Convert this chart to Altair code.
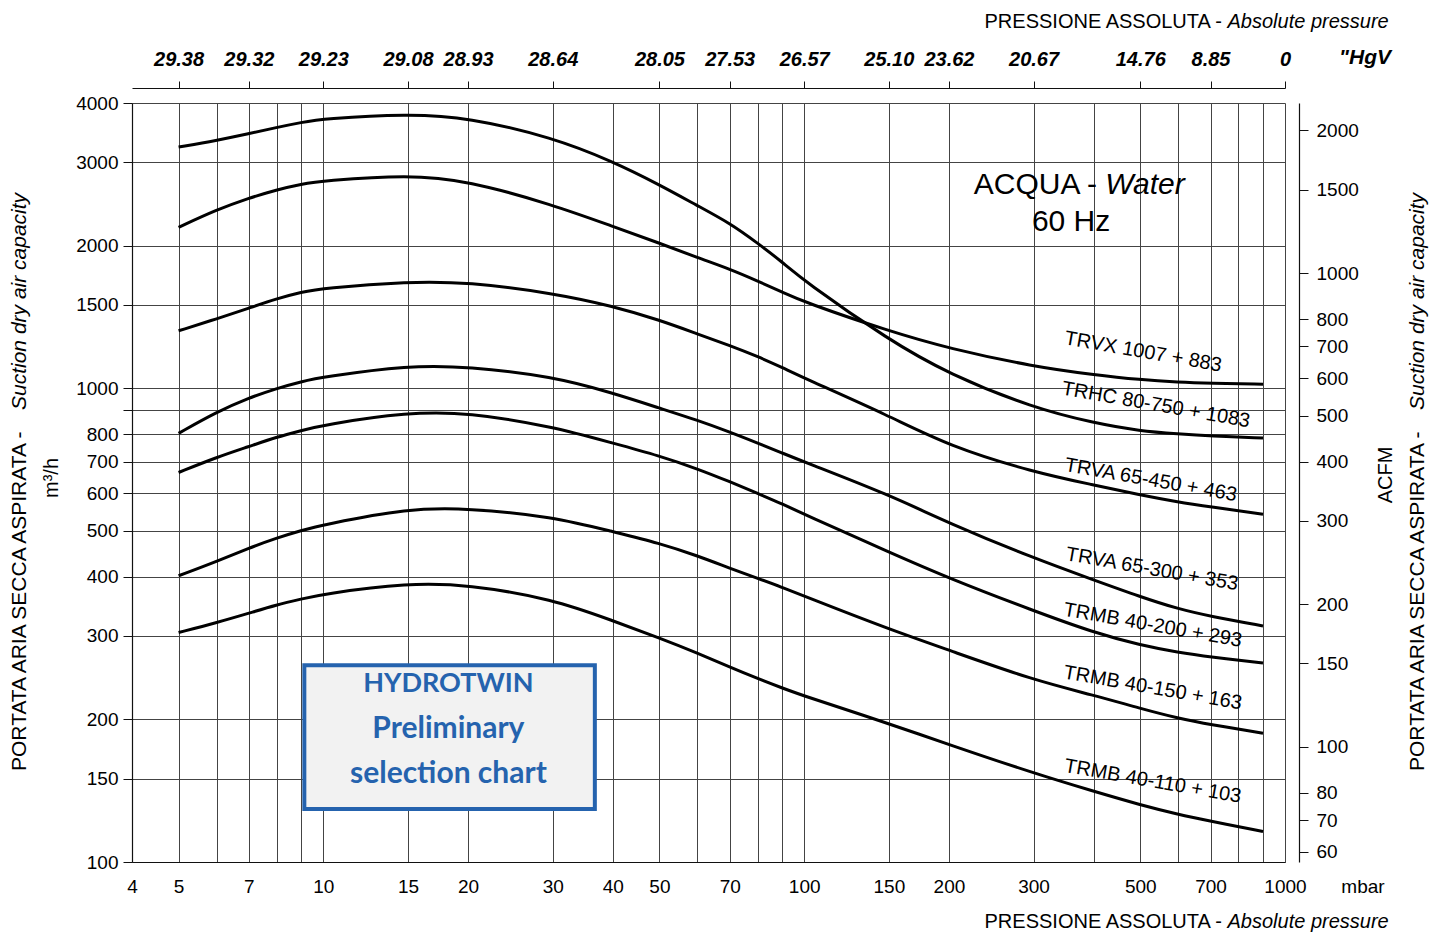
import altair as alt
import pandas as pd

# ---------------- data ----------------
PRESSURE = [5, 6, 7, 8, 9, 10, 15, 20, 30, 40, 50, 60, 70, 80, 90, 100, 150, 200, 300, 400, 500, 600, 700, 900]

TRHC_80_750 = [3229, 3334, 3445, 3552, 3640, 3705, 3796, 3729, 3383, 3010, 2689, 2428, 2232, 2025, 1847, 1684, 1264, 1071, 908, 845, 812, 801, 793, 785]
TRVX_1007 = [2185, 2381, 2520, 2624, 2698, 2741, 2822, 2741, 2440, 2195, 2025, 1886, 1785, 1684, 1596, 1520, 1320, 1213, 1111, 1068, 1042, 1030, 1025, 1020]
TRVA_65_450 = [1322, 1401, 1476, 1545, 1596, 1627, 1680, 1675, 1588, 1491, 1393, 1302, 1231, 1167, 1106, 1050, 875, 755, 665, 625, 595, 575, 562, 542]
TRVA_65_300 = [803, 891, 954, 999, 1033, 1056, 1117, 1111, 1059, 977, 908, 856, 808, 766, 730, 699, 596, 519, 438, 394, 363, 342, 330, 315]
TRMB_40_200 = [664, 715, 753, 789, 814, 837, 890, 889, 830, 766, 720, 676, 635, 600, 570, 542, 451, 397, 339, 305, 287, 277, 271, 263]
TRMB_40_150 = [402, 431, 460, 483, 501, 515, 558, 558, 536, 498, 471, 443, 417, 397, 380, 364, 310, 280, 242, 225, 211, 201, 195, 187]
TRMB_40_110 = [305, 320, 335, 349, 359, 368, 388, 385, 359, 323, 297, 276, 258, 244, 233, 224, 196, 177, 154, 141, 132, 126, 122, 116]

SERIES = {
    "TRHC": TRHC_80_750,
    "TRVX": TRVX_1007,
    "TRVA450": TRVA_65_450,
    "TRVA300": TRVA_65_300,
    "TRMB200": TRMB_40_200,
    "TRMB150": TRMB_40_150,
    "TRMB110": TRMB_40_110,
}

LABEL_TEXT = ["TRVX 1007 + 883", "TRHC 80-750 + 1083", "TRVA 65-450 + 463", "TRVA 65-300 + 353",
              "TRMB 40-200 + 293", "TRMB 40-150 + 163", "TRMB 40-110 + 103"]
LABEL_P = [507, 539, 526, 529, 531, 531, 531]
LABEL_Q = [1193, 922, 640, 415, 316, 233, 148]

X_GRID = [4, 5, 6, 7, 8, 9, 10, 15, 20, 30, 40, 50, 60, 70, 80, 90, 100, 150, 200, 300, 400, 500, 600, 700, 800, 900, 1000]
X_LABELS = [4, 5, 7, 10, 15, 20, 30, 40, 50, 70, 100, 150, 200, 300, 500, 700, 1000]
Y_GRID = [100, 150, 200, 300, 400, 500, 600, 700, 800, 900, 1000, 1500, 2000, 3000, 4000]
Y_LABELS = [100, 150, 200, 300, 400, 500, 600, 700, 800, 1000, 1500, 2000, 3000, 4000]
ACFM_TICKS = [60, 70, 80, 100, 150, 200, 300, 400, 500, 600, 700, 800, 1000, 1500, 2000]
M3H_PER_ACFM = 1.75  # as drawn on the chart's right scale

TOP_P = [5, 7, 10, 15, 20, 30, 50, 70, 100, 150, 200, 300, 500, 700, 1000]
TOP_HGV = ["29.38", "29.32", "29.23", "29.08", "28.93", "28.64", "28.05", "27.53", "26.57",
           "25.10", "23.62", "20.67", "14.76", "8.85", "0"]

BOX_P = [9.13, 36.7]
BOX_Q = [129.4, 260.2]
BOX_LINES = ["HYDROTWIN", "Preliminary", "selection chart"]
BOX_LINE_Q = [228.1, 182.4, 146.6]
BOX_LINE_P = 18.2

ACQUA_TEXT = ["ACQUA -", "Water", "60 Hz"]
ACQUA_P = [406.6, 422.9, 359]
ACQUA_Q = [2569, 2569, 2149]

# ---------------- build ----------------
FONT = "Liberation Sans, Arial, Helvetica, sans-serif"
BLUE = "#2563ae"

rows = []
for name, vals in SERIES.items():
    for p, q in zip(PRESSURE, vals):
        rows.append({"curve": name, "p": p, "q": q})
df = pd.DataFrame(rows)


def lab_expr(vals):
    return "indexof([" + ",".join(str(v) for v in vals) + "], datum.value) >= 0 ? '' + datum.value : ''"


xscale = alt.Scale(type="log", domain=[4, 1000], nice=False)
yscale = alt.Scale(type="log", domain=[100, 4000], nice=False)

xaxis = alt.Axis(values=X_GRID, labelExpr=lab_expr(X_LABELS), grid=True, gridColor="#444", gridWidth=1,
                 tickSize=0, domainColor="#111", domainWidth=1.2, labelFont=FONT, labelFontSize=19,
                 labelColor="black", labelPadding=15, labelFlush=False, labelOverlap=False,
                 labelBound=False, title=None, orient="bottom")
yaxis = alt.Axis(values=Y_GRID, labelExpr=lab_expr(Y_LABELS), grid=True, gridColor="#444", gridWidth=1,
                 tickSize=9, tickColor="#111", domainColor="#111", domainWidth=1.2, labelFont=FONT,
                 labelFontSize=19, labelColor="black", labelPadding=5, labelFlush=False,
                 labelOverlap=False, labelBound=False, title=None, orient="left")


def X(field):
    return alt.X(field, scale=xscale, axis=xaxis)


def Y(field):
    return alt.Y(field, scale=yscale, axis=yaxis)


curves = alt.Chart(df).mark_line(color="black", strokeWidth=3, interpolate="basis").encode(
    x=X("p:Q"), y=Y("q:Q"), detail="curve:N")

lab_df = pd.DataFrame({"t": LABEL_TEXT, "p": LABEL_P, "q": LABEL_Q})
labels = alt.Chart(lab_df).mark_text(angle=10, font=FONT, fontSize=20, align="center",
                                     baseline="middle", color="black").encode(
    x=X("p:Q"), y=Y("q:Q"), text="t:N")

box_df = pd.DataFrame({"p1": [BOX_P[0]], "p2": [BOX_P[1]], "q1": [BOX_Q[0]], "q2": [BOX_Q[1]]})
box = alt.Chart(box_df).mark_rect(fill="#f2f2f2", stroke=BLUE, strokeWidth=4).encode(
    x=X("p1:Q"), x2="p2:Q", y=Y("q1:Q"), y2="q2:Q")


def data_text(text, p, q, size, style="normal", weight="normal", align="center", color="black",
              font=FONT):
    return alt.Chart(pd.DataFrame({"t": [text], "p": [p], "q": [q]})).mark_text(
        font=font, fontSize=size, fontStyle=style, fontWeight=weight, align=align,
        baseline="alphabetic", color=color).encode(x=X("p:Q"), y=Y("q:Q"), text="t:N")


BOX_FONT = "Lato, Open Sans, sans-serif"
box_txt = [
    data_text(BOX_LINES[0], BOX_LINE_P, BOX_LINE_Q[0], 27, weight="bold", color=BLUE, font=BOX_FONT),
    data_text(BOX_LINES[1], BOX_LINE_P, BOX_LINE_Q[1], 30, weight="bold", color=BLUE, font=BOX_FONT),
    data_text(BOX_LINES[2], BOX_LINE_P, BOX_LINE_Q[2], 30, weight="bold", color=BLUE, font=BOX_FONT),
]

acqua = [
    data_text(ACQUA_TEXT[0], ACQUA_P[0], ACQUA_Q[0], 30, align="right"),
    data_text(ACQUA_TEXT[1], ACQUA_P[1], ACQUA_Q[1], 30, style="italic", align="left"),
    data_text(ACQUA_TEXT[2], ACQUA_P[2], ACQUA_Q[2], 30),
]


def note(text, x, y, size=20, style="normal", angle=0, align="center", baseline="alphabetic", font=FONT,
         weight="normal"):
    return alt.Chart(pd.DataFrame({"t": [text]})).mark_text(
        font=font, fontSize=size, fontStyle=style, fontWeight=weight, angle=angle, align=align,
        baseline=baseline, color="black").encode(x=alt.value(x), y=alt.value(y), text="t:N")


notes = [
    note("PRESSIONE ASSOLUTA -", 1090, -75, align="right"),
    note("Absolute pressure", 1095.5, -75, style="italic", align="left"),
    note("PRESSIONE ASSOLUTA -", 1090, 825, align="right"),
    note("Absolute pressure", 1095.5, 825, style="italic", align="left"),
    note("mbar", 1231, 790, size=19),
    note("\"HgV", 1233, -39, size=21, style="italic", weight="bold"),
    note("PORTATA ARIA SECCA ASPIRATA -", -112, 668, size=21, angle=270, align="left", baseline="middle"),
    note("Suction dry air capacity", -112, 307, size=21, style="italic", angle=270, align="left",
         baseline="middle"),
    note("m³/h", -80, 375, size=20, angle=270, align="center", baseline="middle"),
    note("PORTATA ARIA SECCA ASPIRATA -", 1286, 668, size=21, angle=270, align="left", baseline="middle"),
    note("Suction dry air capacity", 1286, 307, size=21, style="italic", angle=270, align="left",
         baseline="middle"),
    note("ACFM", 1254, 372, size=20, angle=270, align="center", baseline="middle"),
]

inner = alt.layer(box, curves, labels, *box_txt, *acqua, *notes)

# right ACFM axis
right = alt.Chart(pd.DataFrame({"a": ACFM_TICKS})).mark_point(opacity=0).encode(
    y=alt.Y("a:Q", scale=alt.Scale(type="log", domain=[100 / M3H_PER_ACFM, 4000 / M3H_PER_ACFM], nice=False),
            axis=alt.Axis(orient="right", values=ACFM_TICKS, format="d", offset=14, grid=False, tickSize=9,
                          tickColor="#111", domainColor="#111", domainWidth=1.2, labelFont=FONT,
                          labelFontSize=19, labelColor="black", labelPadding=8, labelFlush=False,
                          labelOverlap=False, labelBound=False, title=None)))

# top "HgV axis
top_expr = " : ".join("datum.value == %s ? '%s'" % (p, h) for p, h in zip(TOP_P, TOP_HGV)) + " : ''"
top = alt.Chart(pd.DataFrame({"p": TOP_P})).mark_point(opacity=0).encode(
    x=alt.X("p:Q", scale=xscale,
            axis=alt.Axis(orient="top", values=TOP_P, labelExpr=top_expr, offset=15, grid=False, tickSize=7,
                          tickColor="#111", domainColor="#111", domainWidth=1.2, labelFont=FONT,
                          labelFontSize=20, labelFontStyle="italic", labelFontWeight="bold",
                          labelColor="black", labelPadding=12, labelFlush=False, labelOverlap=False,
                          labelBound=False, title=None)))

chart = alt.layer(inner, right, top).resolve_scale(y="independent").resolve_axis(
    x="independent", y="independent").properties(
    width=1153, height=759, autosize=alt.AutoSizeParams(type="none"),
    padding={"left": 124, "top": 95, "right": 153, "bottom": 70},
).configure_view(stroke=None)

chart.save("out.html", embed_options={"renderer": "svg", "actions": False})
